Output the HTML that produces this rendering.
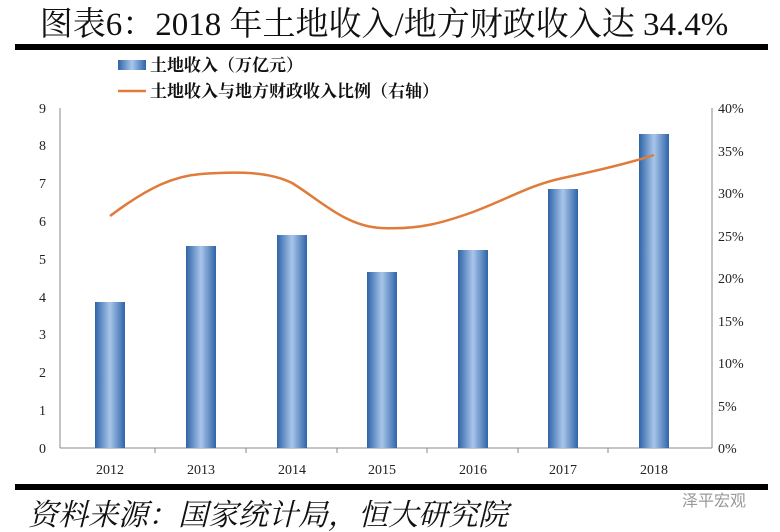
<!DOCTYPE html>
<html><head><meta charset="utf-8"><style>
body{margin:0;background:#fff;}
svg{display:block;font-family:"Liberation Serif","Noto Serif CJK SC",serif;}
</style></head><body>
<svg width="780" height="532" viewBox="0 0 780 532">
<defs><linearGradient id="g" x1="0" x2="1" y1="0" y2="0">
<stop offset="0" stop-color="#2f64a8"/><stop offset="0.5" stop-color="#a9c6ea"/><stop offset="1" stop-color="#2f64a8"/></linearGradient></defs>
<text x="384" y="35" font-size="33" text-anchor="middle" fill="#111">图表6：2018 年土地收入/地方财政收入达 34.4%</text>
<rect x="15" y="44" width="753" height="6" fill="#000"/>
<rect x="118" y="60" width="28" height="10" fill="url(#g)"/>
<text x="150" y="71" font-size="17" font-weight="bold" fill="#111">土地收入（万亿元）</text>
<line x1="118" y1="91" x2="146" y2="91" stroke="#e07b39" stroke-width="2.5"/>
<text x="150" y="97" font-size="17" font-weight="bold" fill="#111">土地收入与地方财政收入比例（右轴）</text>
<g stroke="#888" stroke-width="1">
<line x1="60" y1="108" x2="60" y2="448"/><line x1="712" y1="108" x2="712" y2="448"/>
<line x1="60" y1="448" x2="712" y2="448"/>
<line x1="155" y1="448" x2="155" y2="453"/><line x1="246" y1="448" x2="246" y2="453"/><line x1="337" y1="448" x2="337" y2="453"/><line x1="427" y1="448" x2="427" y2="453"/><line x1="518" y1="448" x2="518" y2="453"/><line x1="608" y1="448" x2="608" y2="453"/>
</g>
<g font-size="14" fill="#222" text-anchor="end">
<text x="46" y="453">0</text><text x="46" y="415">1</text><text x="46" y="377">2</text><text x="46" y="339">3</text><text x="46" y="302">4</text><text x="46" y="264">5</text><text x="46" y="226">6</text><text x="46" y="188">7</text><text x="46" y="150">8</text><text x="46" y="113">9</text>
</g>
<g font-size="14" fill="#222">
<text x="718" y="453">0%</text><text x="718" y="411">5%</text><text x="718" y="368">10%</text><text x="718" y="326">15%</text><text x="718" y="283">20%</text><text x="718" y="241">25%</text><text x="718" y="198">30%</text><text x="718" y="156">35%</text><text x="718" y="113">40%</text>
</g>
<g fill="url(#g)">
<rect x="95" y="302" width="30" height="146"/>
<rect x="186" y="246" width="30" height="202"/>
<rect x="277" y="235" width="30" height="213"/>
<rect x="367" y="272" width="30" height="176"/>
<rect x="458" y="250" width="30" height="198"/>
<rect x="548" y="189" width="30" height="259"/>
<rect x="639" y="134" width="30" height="314"/>
</g>
<path d="M110,216 C150,186 175,176 201,174 C240,171 270,172 292,183 C320,200 345,226 381,228 C420,230 445,222 473,212 C510,198 530,185 563,178 C600,170 630,163 654,155" fill="none" stroke="#e07b39" stroke-width="2.5"/>
<g font-size="14" fill="#222" text-anchor="middle">
<text x="110" y="474">2012</text><text x="201" y="474">2013</text><text x="292" y="474">2014</text><text x="382" y="474">2015</text><text x="473" y="474">2016</text><text x="563" y="474">2017</text><text x="654" y="474">2018</text>
</g>
<rect x="15" y="484" width="753" height="6" fill="#000"/>
<text x="28" y="525" font-size="30" font-style="italic" fill="#111">资料来源：国家统计局，恒大研究院</text>
<text x="682" y="506" font-size="16" fill="#999" font-family="'Liberation Sans','Noto Sans CJK SC',sans-serif">泽平宏观</text>
</svg>
</body></html>
